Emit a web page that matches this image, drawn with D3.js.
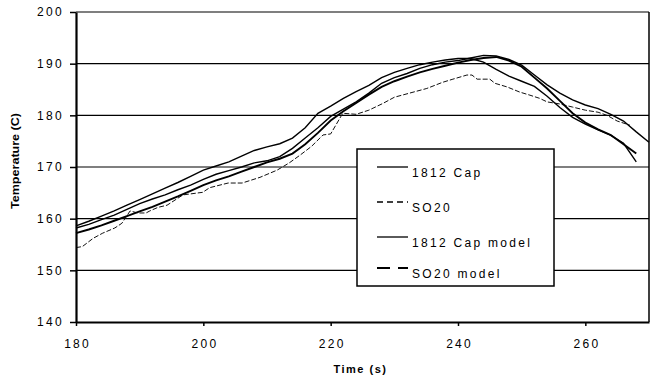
<!DOCTYPE html>
<html>
<head>
<meta charset="utf-8">
<script src="https://cdn.jsdelivr.net/npm/d3@7"></script>
<style>
  body { margin: 0; background: #fff; }
  text { font-family: "Liberation Sans", Arial, sans-serif; fill: #000; }
</style>
</head>
<body>
<script>
// time axis for the three solid curves (s)
var times = [180, 182, 184, 186, 188, 190, 192, 194, 196, 198, 200, 202, 204, 206, 208,
  210, 212, 214, 216, 218, 220, 222, 224, 226, 228, 230, 232, 234, 236, 238, 240,
  242, 244, 246, 248, 250, 252, 254, 256, 258, 260, 262, 264, 266, 268, 270];

// temperatures (C)
var cap1812 = [158.2, 158.9, 159.8, 160.7, 161.8, 162.9, 163.8, 164.6, 165.6, 166.5, 167.6,
  168.6, 169.3, 170.0, 170.8, 171.2, 172.0, 173.6, 175.6, 177.6, 179.8, 181.2, 182.6,
  184.3, 186.2, 187.3, 188.1, 189.1, 189.8, 190.3, 190.6, 191.1, 191.6, 191.5, 190.8,
  189.7, 187.8, 185.9, 184.3, 183.0, 182.0, 181.3, 180.2, 178.9, 176.8, 174.8];

var cap1812Model = [158.6, 159.5, 160.5, 161.5, 162.6, 163.7, 164.8, 165.9, 167.0, 168.2,
  169.4, 170.2, 171.0, 172.1, 173.2, 173.9, 174.5, 175.6, 177.6, 180.4, 181.8, 183.3,
  184.6, 185.8, 187.3, 188.3, 189.1, 189.8, 190.3, 190.7, 191.0, 191.0, 190.3, 188.9,
  187.6, 186.6, 185.6, 183.7, 181.5, 179.6, 178.3, 177.2, 176.1, 174.6, 171.0, null];

var so20Model = [157.2, 157.9, 158.7, 159.6, 160.5, 161.4, 162.3, 163.3, 164.3, 165.4,
  166.5, 167.4, 168.2, 169.1, 170.0, 170.9, 171.6, 172.6, 174.4, 176.6, 179.0, 180.8,
  182.4, 184.0, 185.5, 186.6, 187.5, 188.3, 189.0, 189.6, 190.2, 190.7, 191.1, 191.3,
  190.6, 189.4, 187.3, 185.2, 182.8, 180.4, 178.6, 177.3, 176.2, 174.4, 172.6, null];

// measured SO20 trace has its own sample times
var so20Times = [180, 181, 182.7, 184.2, 186.1, 187.2, 188.5, 189.7, 191, 191.6, 192.9,
  194.3, 196.8, 199.9, 201, 203.9, 206.1, 208.9, 211.6, 213.5, 215.2, 217, 218.8, 220,
  221.9, 224, 226, 228.2, 230, 232.4, 235.1, 237.6, 239.2, 241.4, 242.2, 243, 245,
  245.8, 247.7, 249.7, 251.3, 252.8, 254, 256, 258, 260, 262, 263.4, 265, 267];
var so20 = [154.4, 154.6, 156.2, 157.2, 158.2, 159.1, 161.5, 161.1, 161.1, 161.5, 162.2,
  162.6, 164.6, 165.1, 166.0, 166.9, 166.9, 168.0, 169.4, 170.8, 172.3, 174.0, 176.2,
  176.4, 180.4, 180.2, 181.0, 182.3, 183.5, 184.3, 185.2, 186.4, 187.0, 187.8, 187.8,
  187.0, 187.0, 186.2, 185.5, 184.5, 183.9, 183.3, 182.6, 182.2, 181.6, 181.0, 180.6,
  180.0, 178.9, 178.1];

var xTicks = [180, 200, 220, 240, 260];
var yTicks = [140, 150, 160, 170, 180, 190, 200];
var legendLabels = ["1812 Cap", "SO20", "1812 Cap model", "SO20 model"];

var svgWidth = 657;
var svgHeight = 375;
var margin = { top: 12, right: 8, bottom: 53, left: 76 };
var width = svgWidth - margin.left - margin.right;
var height = svgHeight - margin.top - margin.bottom;

var svg = d3.select("body").append("svg")
  .attr("width", svgWidth)
  .attr("height", svgHeight);

var chartGroup = svg.append("g")
  .attr("transform", `translate(${margin.left}, ${margin.top})`);

var xScale = d3.scaleLinear().domain([180, 270]).range([0, width]);
var yScale = d3.scaleLinear().domain([140, 200]).range([height, 0]);

// horizontal gridlines
chartGroup.selectAll(".grid")
  .data(yTicks.filter(d => d > 140))
  .enter().append("line")
  .attr("x1", 0).attr("x2", width)
  .attr("y1", d => yScale(d)).attr("y2", d => yScale(d))
  .attr("stroke", "#000").attr("stroke-width", 1.2);

// right border of plot area
chartGroup.append("line")
  .attr("x1", width).attr("x2", width)
  .attr("y1", 0).attr("y2", height)
  .attr("stroke", "#000").attr("stroke-width", 1.5);

// lines
function lineFor(xs, ys) {
  return d3.line()
    .defined((d, i) => ys[i] != null)
    .x((d, i) => xScale(xs[i]))
    .y((d, i) => yScale(ys[i]))(ys);
}

chartGroup.append("path")
  .attr("d", lineFor(so20Times, so20))
  .attr("fill", "none").attr("stroke", "#111")
  .attr("stroke-width", 1).attr("stroke-dasharray", "5,2");

chartGroup.append("path")
  .attr("d", lineFor(times, so20Model))
  .attr("fill", "none").attr("stroke", "#000")
  .attr("stroke-width", 1.9);

chartGroup.append("path")
  .attr("d", lineFor(times, cap1812Model))
  .attr("fill", "none").attr("stroke", "#000")
  .attr("stroke-width", 1.4);

chartGroup.append("path")
  .attr("d", lineFor(times, cap1812))
  .attr("fill", "none").attr("stroke", "#000")
  .attr("stroke-width", 1.4);

// axes
var bottomAxis = d3.axisBottom(xScale).tickValues(xTicks).tickSize(4).tickSizeOuter(0).tickPadding(13);
var leftAxis = d3.axisLeft(yScale).tickValues(yTicks).tickSize(6).tickSizeOuter(0).tickPadding(8);

var xAxisG = chartGroup.append("g")
  .attr("transform", `translate(0, ${height})`)
  .call(bottomAxis);
var yAxisG = chartGroup.append("g").call(leftAxis);

[xAxisG, yAxisG].forEach(function(g) {
  g.select(".domain").attr("stroke", "#000").attr("stroke-width", 2.2);
  g.selectAll(".tick line").attr("stroke", "#000").attr("stroke-width", 1.5);
  g.selectAll(".tick text")
    .attr("font-family", "Liberation Sans, Arial, sans-serif")
    .attr("font-size", 12)
    .attr("letter-spacing", "2.3px")
    .attr("fill", "#000");
});
xAxisG.selectAll(".tick text").attr("dx", "1.1px");
yAxisG.selectAll(".tick text").attr("dx", "2px");

// axis titles
svg.append("text")
  .attr("x", margin.left + width / 2 - 2)
  .attr("y", 373)
  .attr("text-anchor", "middle")
  .attr("font-size", 11)
  .attr("font-weight", "bold")
  .attr("letter-spacing", "1.5px")
  .text("Time (s)");

svg.append("text")
  .attr("transform", "translate(19, 161) rotate(-90)")
  .attr("text-anchor", "middle")
  .attr("font-size", 10)
  .attr("font-weight", "bold")
  .attr("textLength", 96)
  .attr("lengthAdjust", "spacingAndGlyphs")
  .text("Temperature (C)");

// legend
var legend = svg.append("g").attr("transform", "translate(357, 149)");
legend.append("rect")
  .attr("width", 197).attr("height", 137)
  .attr("fill", "#fff").attr("stroke", "#000").attr("stroke-width", 1.5);

var legendDash = ["none", "6,4", "none", "13,8"];
var legendWidth = [1.3, 1.6, 1.3, 2];
var legendRows = [18, 53, 88, 119];

legendLabels.forEach(function(label, i) {
  legend.append("line")
    .attr("x1", 20).attr("x2", 51)
    .attr("y1", legendRows[i]).attr("y2", legendRows[i])
    .attr("stroke", "#000")
    .attr("stroke-width", legendWidth[i])
    .attr("stroke-dasharray", legendDash[i]);
  legend.append("text")
    .attr("x", 55).attr("y", legendRows[i] + 10)
    .attr("font-size", 12)
    .attr("letter-spacing", "2.3px")
    .text(label);
});
</script>
</body>
</html>
